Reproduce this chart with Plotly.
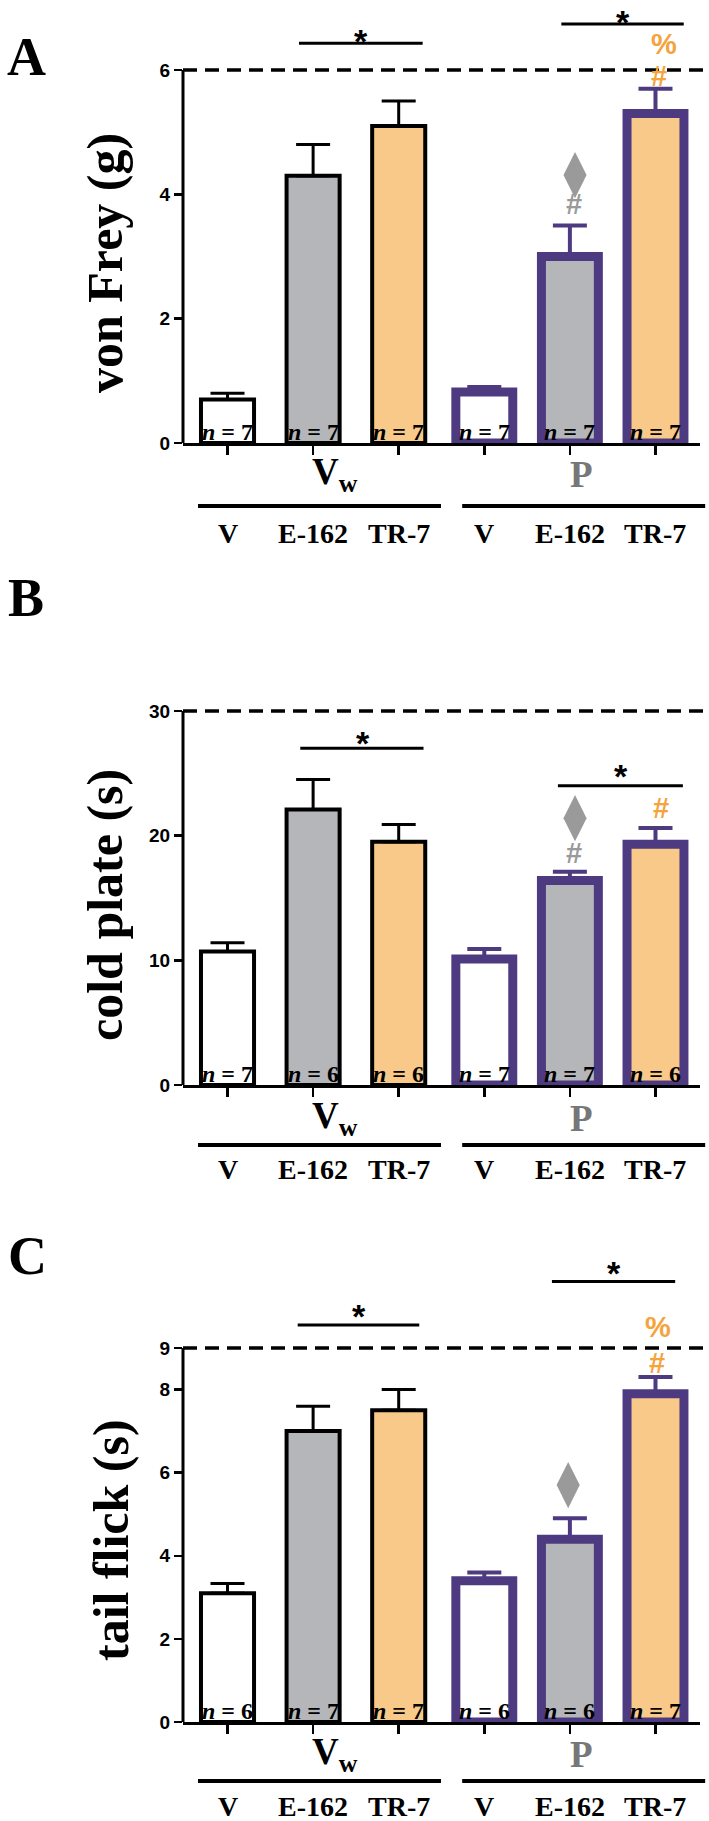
import plotly.graph_objects as go

W, H = 709, 1821
SERIF = "Liberation Serif"
SANS = "Liberation Sans"
PURPLE = "#4E3A80"
GRAY_FILL = "#B5B6BA"
ORANGE_FILL = "#F8C988"
MARK_GRAY = "#9A9A9A"
MARK_ORANGE = "#F5A33C"
P_GRAY = "#777777"

# ---------------- data ----------------
treatments = ["V", "E-162", "TR-7"]
x_vw = [0, 1, 2]
x_p = [3, 4, 5]
fills = ["white", GRAY_FILL, ORANGE_FILL]

# A: von Frey (g)
vf_vw = [0.7, 4.3, 5.1]
vf_vw_err = [0.1, 0.5, 0.4]
vf_p = [0.82, 3.0, 5.3]
vf_p_err = [0.08, 0.5, 0.4]
vf_n = [7, 7, 7, 7, 7, 7]
vf_ticks = [0, 2, 4, 6]

# B: cold plate (s)
cp_vw = [10.7, 22.1, 19.5]
cp_vw_err = [0.7, 2.4, 1.4]
cp_p = [10.1, 16.4, 19.3]
cp_p_err = [0.8, 0.7, 1.3]
cp_n = [7, 6, 6, 7, 7, 6]
cp_ticks = [0, 10, 20, 30]

# C: tail flick (s)
tf_vw = [3.1, 7.0, 7.5]
tf_vw_err = [0.23, 0.6, 0.5]
tf_p = [3.4, 4.4, 7.9]
tf_p_err = [0.2, 0.5, 0.4]
tf_n = [6, 7, 7, 6, 6, 7]
tf_ticks = [0, 2, 4, 6, 8, 9]

panels = [
    dict(vw=vf_vw, vw_err=vf_vw_err, p=vf_p, p_err=vf_p_err, n=vf_n, ticks=vf_ticks,
         limit=6, ymax=7.1, zero_px=443, unit_px=62.17, below=(31, 63, 90),
         title="von Frey (g)", title_xy=(105, 263), letter="A", letter_xy=(26, 57),
         sig=[(0.835, 2.28, 6.43, 1.56, 6.6), (3.9, 5.33, 6.74, 4.62, 6.9)],
         marks=[(4.05, 3.84, "#", MARK_GRAY), (5.04, 5.9, "#", MARK_ORANGE),
                (5.1, 6.42, "%", MARK_ORANGE)],
         diamonds=[(4.06, 4.31)]),
    dict(vw=cp_vw, vw_err=cp_vw_err, p=cp_p, p_err=cp_p_err, n=cp_n, ticks=cp_ticks,
         limit=30, ymax=30.6, zero_px=1085, unit_px=12.47, below=(33, 60, 84),
         title="cold plate (s)", title_xy=(105, 905), letter="B", letter_xy=(26, 598),
         sig=[(0.85, 2.29, 27.0, 1.58, 28.1), (3.86, 5.32, 24.0, 4.6, 25.4)],
         marks=[(4.05, 18.6, "#", MARK_GRAY), (5.06, 22.2, "#", MARK_ORANGE)],
         diamonds=[(4.06, 21.4)]),
    dict(vw=tf_vw, vw_err=tf_vw_err, p=tf_p, p_err=tf_p_err, n=tf_n, ticks=tf_ticks,
         limit=9, ymax=11.4, zero_px=1722, unit_px=41.56, below=(32, 59, 84),
         title="tail flick (s)", title_xy=(111, 1540), letter="C", letter_xy=(27, 1256),
         sig=[(0.82, 2.24, 9.55, 1.54, 9.96), (3.79, 5.23, 10.6, 4.51, 11.0)],
         marks=[(5.02, 8.63, "#", MARK_ORANGE), (5.03, 9.5, "%", MARK_ORANGE)],
         diamonds=[(3.98, 5.7)]),
]

X_LEFT, X_RIGHT = 183, 700
X_RANGE = [-0.52, 5.52]


def py(px):
    return 1 - px / H


fig = go.Figure()
shapes = []
annotations = []
layout = {}

for i, pn in enumerate(panels):
    k = "" if i == 0 else str(i + 1)
    xa, ya = "x" + k, "y" + k
    top_px = pn["zero_px"] - pn["ymax"] * pn["unit_px"]
    layout["xaxis" + k] = dict(
        domain=[X_LEFT / W, X_RIGHT / W], range=X_RANGE, anchor=ya,
        showline=True, linecolor="black", linewidth=3, ticks="outside",
        tickvals=x_vw + x_p, ticklen=9, tickwidth=2.5, tickcolor="black",
        showticklabels=False, showgrid=False, zeroline=False, fixedrange=True,
        automargin=False)
    layout["yaxis" + k] = dict(
        domain=[py(pn["zero_px"]), py(top_px)], range=[0, pn["ymax"]], anchor=xa,
        showline=False, ticks="outside", ticklen=8, tickwidth=2.5, tickcolor="black",
        tickvals=pn["ticks"], ticktext=["<b>%d</b>" % t for t in pn["ticks"]],
        tickfont=dict(family=SANS, size=19, color="black"),
        showgrid=False, zeroline=False, fixedrange=True, automargin=False)

    # bars
    fig.add_trace(go.Bar(
        x=x_vw, y=pn["vw"], width=0.62, xaxis=xa, yaxis=ya,
        marker=dict(color=fills, line=dict(color="black", width=4)),
        error_y=dict(type="data", array=pn["vw_err"], arrayminus=[0, 0, 0],
                     symmetric=False, color="black", thickness=3, width=17),
        showlegend=False, hoverinfo="skip"))
    fig.add_trace(go.Bar(
        x=x_p, y=pn["p"], width=0.665, xaxis=xa, yaxis=ya,
        marker=dict(color=fills, line=dict(color=PURPLE, width=9)),
        error_y=dict(type="data", array=pn["p_err"], arrayminus=[0, 0, 0],
                     symmetric=False, color=PURPLE, thickness=4, width=17),
        showlegend=False, hoverinfo="skip"))
    # diamonds
    fig.add_trace(go.Scatter(
        x=[d[0] for d in pn["diamonds"]], y=[d[1] for d in pn["diamonds"]],
        mode="markers", xaxis=xa, yaxis=ya, cliponaxis=False,
        marker=dict(symbol="diamond-tall", size=33, color=MARK_GRAY),
        showlegend=False, hoverinfo="skip"))

    # y axis line (only up to the limit) and dashed cut-off line
    shapes.append(dict(type="line", xref=xa + " domain", yref=ya, x0=0, x1=0,
                       y0=0, y1=pn["limit"], line=dict(color="black", width=3)))
    shapes.append(dict(type="line", xref=xa + " domain", yref=ya, x0=0, x1=1.02,
                       y0=pn["limit"], y1=pn["limit"],
                       line=dict(color="black", width=3.5, dash="14px,8px")))

    # significance lines and stars
    for (sx0, sx1, sy, stx, sty) in pn["sig"]:
        shapes.append(dict(type="line", xref=xa, yref=ya, x0=sx0, x1=sx1, y0=sy, y1=sy,
                           line=dict(color="black", width=3)))
        annotations.append(dict(x=stx, y=sty, xref=xa, yref=ya, text="<b>*</b>",
                                showarrow=False, yshift=-8,
                                font=dict(family=SANS, size=34, color="black")))
    for (mx, my, mt, mc) in pn["marks"]:
        annotations.append(dict(x=mx, y=my, xref=xa, yref=ya, text="<b>%s</b>" % mt,
                                showarrow=False,
                                font=dict(family=SANS, size=29, color=mc)))

    # n labels
    for j, nv in enumerate(pn["n"]):
        annotations.append(dict(x=(x_vw + x_p)[j], y=0, xref=xa, yref=ya,
                                text="<b><i>n</i> = %d</b>" % nv, showarrow=False,
                                yanchor="bottom", yshift=-4,
                                font=dict(family=SERIF, size=24, color="black")))

    z = pn["zero_px"]
    b_lab, b_line, b_tr = pn["below"]
    # group labels
    annotations.append(dict(x=1.25, y=py(z + b_lab), xref=xa, yref="paper",
                            text="<b>V<sub>w</sub></b>", showarrow=False, yanchor="middle",
                            font=dict(family=SERIF, size=37, color="black")))
    annotations.append(dict(x=4.13, y=py(z + b_lab), xref=xa, yref="paper",
                            text="<b>P</b>", showarrow=False, yanchor="middle",
                            font=dict(family=SERIF, size=37, color=P_GRAY)))
    # group lines
    for gx0, gx1 in [(0.029, 0.499), (0.540, 1.010)]:
        shapes.append(dict(type="line", xref=xa + " domain", yref="paper",
                           x0=gx0, x1=gx1, y0=py(z + b_line), y1=py(z + b_line),
                           line=dict(color="black", width=4)))
    # treatment labels
    for j, xv in enumerate(x_vw + x_p):
        annotations.append(dict(x=xv, y=py(z + b_tr), xref=xa, yref="paper",
                                text="<b>%s</b>" % treatments[j % 3], showarrow=False,
                                yanchor="middle",
                                font=dict(family=SERIF, size=28, color="black")))
    # axis title
    tx, ty = pn["title_xy"]
    annotations.append(dict(x=tx / W, y=py(ty), xref="paper", yref="paper",
                            text="<b>%s</b>" % pn["title"], textangle=-90,
                            showarrow=False, xanchor="center", yanchor="middle",
                            font=dict(family=SERIF, size=50, color="black")))
    # panel letter
    lx, ly = pn["letter_xy"]
    annotations.append(dict(x=lx / W, y=py(ly), xref="paper", yref="paper",
                            text="<b>%s</b>" % pn["letter"], showarrow=False,
                            xanchor="center", yanchor="middle",
                            font=dict(family=SERIF, size=54, color="black")))

fig.update_layout(
    width=W, height=H, margin=dict(l=0, r=0, t=0, b=0),
    paper_bgcolor="white", plot_bgcolor="white", hovermode=False,
    barmode="overlay", shapes=shapes, annotations=annotations, **layout)

fig.write_html("out.html", config={"displayModeBar": False, "staticPlot": True},
               post_script="document.body.style.margin='0';document.body.style.padding='0';")
